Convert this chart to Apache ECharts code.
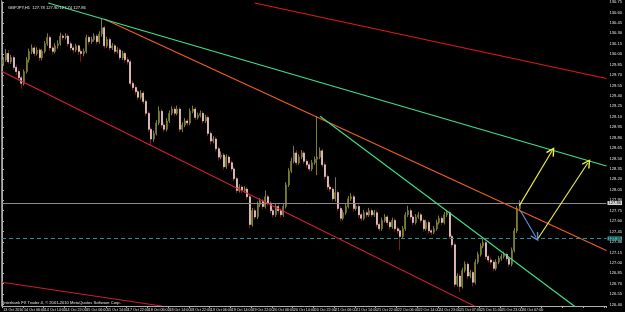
<!DOCTYPE html>
<html><head><meta charset="utf-8">
<script src="https://cdn.jsdelivr.net/npm/echarts@6/dist/echarts.min.js"></script>
<style>html,body{margin:0;padding:0;background:#000;}#c{width:625px;height:312px;}</style>
</head><body><div id="c"></div>
<script>
// ---- tick labels ----
const timeLabels = ['13 Oct 2010','14 Oct 06:00','14 Oct 14:00','14 Oct 22:00','15 Oct 06:00','15 Oct 14:00','17 Oct 22:00','18 Oct 06:00','18 Oct 14:00','18 Oct 22:00','19 Oct 06:00','19 Oct 14:00','19 Oct 22:00','20 Oct 06:00','20 Oct 14:00','20 Oct 22:00','21 Oct 06:00','21 Oct 14:00','21 Oct 22:00','22 Oct 06:00','22 Oct 14:00','24 Oct 23:00','25 Oct 07:00','25 Oct 15:00','25 Oct 23:00','26 Oct 07:00'];
const priceTicks = [126.40,126.55,126.70,126.85,127.00,127.15,127.30,127.45,127.60,127.75,127.90,128.05,128.20,128.35,128.50,128.65,128.80,128.95,129.10,129.25,129.40,129.55,129.70,129.85,130.00,130.15,130.30,130.45,130.60,130.75];
const labelEvery = 8;          // bars between time labels
const totalSlots = 233;        // bars incl. right-side shift space
const priceMin = 126.379, priceMax = 130.750;

// ---- OHLC (GBPJPY H1) ----
const opens = [129.86,129.92,130.01,129.89,129.95,129.81,129.75,129.66,129.58,129.75,
129.92,130.04,130.09,130.01,130.06,129.95,130.04,130.15,130.24,130.09,
130.04,130.12,130.15,130.26,130.24,130.26,130.15,130.09,130.06,130.12,
130.04,130.01,130.04,130.24,130.18,130.21,130.26,130.18,130.29,130.38,
130.12,130.21,130.09,130.12,130.04,130.06,129.95,130.01,129.92,129.89,
129.58,129.52,129.46,129.38,129.44,129.32,129.15,128.92,128.78,128.86,
129.01,129.18,128.98,128.92,129.04,129.15,129.21,129.15,129.21,128.92,
128.98,129.04,129.01,129.18,129.21,129.09,129.12,129.15,129.04,129.09,
128.86,128.75,128.78,128.64,128.52,128.55,128.38,128.52,128.44,128.35,
128.21,128.04,128.09,128.04,128.06,127.95,127.55,127.75,127.66,127.84,
127.89,127.81,127.95,127.86,127.75,127.69,127.81,127.75,127.69,127.81,
128.12,128.32,128.46,128.58,128.44,128.52,128.58,128.46,128.41,128.35,
128.44,128.49,128.52,128.61,128.41,128.24,128.09,128.06,127.92,128.01,
127.78,127.64,127.72,127.81,127.92,127.95,127.78,127.81,127.69,127.64,
127.72,127.69,127.75,127.69,127.72,127.55,127.49,127.61,127.66,127.58,
127.52,127.61,127.49,127.46,127.38,127.49,127.69,127.75,127.66,127.58,
127.66,127.69,127.61,127.49,127.58,127.46,127.44,127.49,127.58,127.64,
127.58,127.69,127.72,127.38,127.26,126.69,126.81,126.66,126.89,126.98,
126.81,126.86,126.72,127.01,127.12,127.24,127.29,127.09,127.04,127.01,
126.92,127.01,127.06,127.09,127.12,127.06,126.98,127.18,127.46,127.78];
const closes = [129.92,130.01,129.89,129.95,129.81,129.75,129.66,129.58,129.75,129.92,
130.04,130.09,130.01,130.06,129.95,130.04,130.15,130.24,130.09,130.04,
130.12,130.15,130.26,130.24,130.26,130.15,130.09,130.06,130.12,130.04,
130.01,130.04,130.24,130.18,130.21,130.26,130.18,130.29,130.38,130.12,
130.21,130.09,130.12,130.04,130.06,129.95,130.01,129.92,129.89,129.58,
129.52,129.46,129.38,129.44,129.32,129.15,128.92,128.78,128.86,129.01,
129.18,128.98,128.92,129.04,129.15,129.21,129.15,129.21,128.92,128.98,
129.04,129.01,129.18,129.21,129.09,129.12,129.15,129.04,129.09,128.86,
128.75,128.78,128.64,128.52,128.55,128.38,128.52,128.44,128.35,128.21,
128.04,128.09,128.04,128.06,127.95,127.55,127.75,127.66,127.84,127.89,
127.81,127.95,127.86,127.75,127.69,127.81,127.75,127.69,127.81,128.12,
128.32,128.46,128.58,128.44,128.52,128.58,128.46,128.41,128.35,128.44,
128.49,128.52,128.61,128.41,128.24,128.09,128.06,127.92,128.01,127.78,
127.64,127.72,127.81,127.92,127.95,127.78,127.81,127.69,127.64,127.72,
127.69,127.75,127.69,127.72,127.55,127.49,127.61,127.66,127.58,127.52,
127.61,127.49,127.46,127.38,127.49,127.69,127.75,127.66,127.58,127.66,
127.69,127.61,127.49,127.58,127.46,127.44,127.49,127.58,127.64,127.58,
127.69,127.72,127.38,127.26,126.69,126.81,126.66,126.89,126.98,126.81,
126.86,126.72,127.01,127.12,127.24,127.29,127.09,127.04,127.01,126.92,
127.01,127.06,127.09,127.12,127.06,126.98,127.18,127.46,127.78,127.86];
const highs = [129.96,130.07,130.06,129.99,129.98,129.85,129.78,129.69,129.78,129.96,
130.08,130.14,130.12,130.10,130.09,130.07,130.19,130.30,130.27,130.12,
130.16,130.20,130.31,130.29,130.30,130.29,130.18,130.12,130.15,130.14,
130.07,130.08,130.28,130.27,130.25,130.30,130.29,130.33,130.51,130.41,
130.25,130.24,130.16,130.15,130.10,130.09,130.05,130.04,129.96,129.92,
129.62,129.56,129.49,129.48,129.47,129.35,129.18,128.95,128.90,129.05,
129.25,129.21,129.02,129.08,129.19,129.25,129.24,129.26,129.24,129.02,
129.08,129.07,129.22,129.26,129.24,129.16,129.19,129.18,129.13,129.12,
128.89,128.82,128.81,128.67,128.60,128.58,128.56,128.55,128.47,128.38,
128.24,128.13,128.12,128.10,128.09,127.98,127.79,127.78,127.88,127.93,
127.92,128.04,127.98,127.89,127.78,127.85,127.84,127.78,127.85,128.16,
128.36,128.51,128.68,128.62,128.56,128.62,128.61,128.49,128.44,128.48,
128.53,129.11,128.66,128.64,128.44,128.27,128.13,128.09,128.23,128.04,
127.81,127.76,127.85,127.96,128.00,127.98,127.85,127.84,127.72,127.76,
127.75,127.79,127.78,127.76,127.75,127.58,127.65,127.70,127.69,127.61,
127.65,127.64,127.52,127.49,127.53,127.73,127.82,127.78,127.69,127.70,
127.73,127.72,127.64,127.62,127.61,127.49,127.53,127.62,127.68,127.67,
127.73,127.76,127.75,127.41,127.29,126.85,126.84,126.93,127.02,127.01,
126.90,126.89,127.05,127.16,127.28,127.35,127.32,127.12,127.08,127.04,
127.05,127.10,127.13,127.16,127.15,127.09,127.22,127.50,127.82,127.90];
const lows = [129.83,129.89,129.86,129.86,129.78,129.70,129.62,129.50,129.55,129.72,
129.88,130.00,129.97,129.98,129.90,129.91,130.01,130.12,130.05,130.00,
130.01,130.08,130.12,130.20,130.21,130.11,130.05,130.02,130.03,129.99,
129.89,129.97,130.01,130.14,130.15,130.18,130.14,130.15,130.25,130.08,
130.09,130.05,130.06,130.00,130.01,129.91,129.92,129.88,129.85,129.54,
129.48,129.42,129.34,129.35,129.28,129.11,128.88,128.68,128.74,128.83,
128.98,128.94,128.88,128.89,129.01,129.12,129.11,129.12,128.88,128.88,
128.95,128.97,128.98,129.15,129.05,129.06,129.09,129.00,129.01,128.82,
128.70,128.72,128.60,128.47,128.49,128.34,128.35,128.40,128.31,128.17,
128.00,128.01,128.00,128.01,127.91,127.50,127.52,127.62,127.63,127.80,
127.77,127.78,127.82,127.71,127.65,127.66,127.71,127.65,127.66,127.78,
128.09,128.29,128.43,128.40,128.41,128.49,128.42,128.37,128.31,128.32,
128.41,128.26,128.49,128.37,128.20,128.05,128.02,127.88,127.88,127.74,
127.60,127.61,127.69,127.78,127.89,127.74,127.75,127.65,127.60,127.61,
127.65,127.66,127.66,127.66,127.51,127.45,127.46,127.58,127.54,127.48,
127.49,127.45,127.42,127.18,127.35,127.46,127.66,127.62,127.54,127.55,
127.63,127.57,127.45,127.46,127.42,127.40,127.41,127.46,127.55,127.54,
127.55,127.66,127.34,127.22,126.65,126.66,126.58,126.63,126.86,126.77,
126.78,126.66,126.69,126.98,127.09,127.21,127.05,127.00,126.97,126.88,
126.89,126.98,127.03,127.06,127.02,126.94,126.95,127.15,127.43,127.74];

// ---- price levels ----
const bidPrice = 127.86;
const levelPrice = 127.35;
const headerText = 'GBPJPY,H1  127.78 127.90 127.74 127.86';
const footerText = 'Interbank FX Trader 4, \u00a9 2001-2010 MetaQuotes Software Corp.';

// ---- trendlines: [bar position, price] ----
const channelLow = [[0, 129.75], [182.6, 126.37]];
const redUpper = [[97.4, 130.736], [233, 129.65]];
const redBottom = [[0, 126.72], [61.5, 126.38]];
const orangeLine = [[39.34, 130.507], [233, 127.176]];
const greenUpper = [[17.8, 130.736], [233, 128.393]];
const greenLower = [[122.6, 129.107], [220.8, 126.372]];
const yellowArrow1 = [[199.4, 127.822], [212.0, 128.607]];
const yellowArrow2 = [[206.6, 127.35], [225.8, 128.436]];
const blueArrow = [[199.8, 127.75], [205.9, 127.365]];

// ---- build ----
const categories = Array.from({length: totalSlots}, (_, i) => 'b' + i);
const ohlc = opens.map((o, i) => [o, closes[i], lows[i], highs[i]]);
const bodies = opens.map((o, i) => [o, closes[i], Math.min(o, closes[i]), Math.max(o, closes[i])]);

const bull = '#7c7c32', bearBody = '#f4d2d2', bearWick = '#7a1a1a';
const chevron = 'path://M5,0 L10,9 L8.8,10 L5,3.2 L1.2,10 L0,9 Z';
const lbl = {fontFamily: 'Liberation Sans', fontSize: 4.1, color: '#e6e6e6'};

function lineSeries(coords, color, arrow) {
  return {
    type: 'lines', coordinateSystem: 'cartesian2d', xAxisIndex: 1, yAxisIndex: 0,
    clip: true, silent: true, z: 5,
    symbol: arrow ? ['none', chevron] : ['none', 'none'], symbolSize: 9,
    lineStyle: {color: color, width: 1.1, opacity: 1, curveness: 0},
    data: [{coords: coords}]
  };
}

const chart = echarts.init(document.getElementById('c'), null, {renderer: 'canvas'});
chart.setOption({
  backgroundColor: '#000',
  animation: false,
  grid: {left: 2, right: 13, top: 0, bottom: 6, containLabel: false},
  title: {text: headerText, left: 3, top: 1, textStyle: Object.assign({}, lbl, {fontWeight: 'normal'})},
  graphic: [
    {type: 'line', shape: {x1: 1.5, y1: 0, x2: 1.5, y2: 306}, style: {stroke: '#8a8a8a', lineWidth: 1}},
    {type: 'text', left: 3, top: 300.5, style: Object.assign({text: footerText, fill: '#e6e6e6', font: '4.1px "Liberation Sans"'})}
  ],
  xAxis: [{
    type: 'category', data: categories, boundaryGap: true,
    axisLine: {lineStyle: {color: '#b0b0b0', width: 1}},
    axisTick: {show: true, interval: labelEvery - 1, length: 2, lineStyle: {color: '#b0b0b0'}},
    axisLabel: Object.assign({}, lbl, {fontSize: 3.7, interval: labelEvery - 1, align: 'left', margin: 2,
      showMinLabel: true, hideOverlap: false,
      formatter: (v, idx) => timeLabels[idx / labelEvery] || ''}),
    splitLine: {show: false}
  }, {
    type: 'value', min: 0, max: totalSlots, show: false
  }],
  yAxis: [{
    type: 'value', position: 'right', min: priceMin, max: priceMax, scale: true,
    axisLine: {show: true, lineStyle: {color: '#b0b0b0', width: 1}},
    axisTick: {show: true, length: 2, customValues: priceTicks, lineStyle: {color: '#b0b0b0'}},
    axisLabel: Object.assign({}, lbl, {margin: 3, customValues: priceTicks, formatter: v => Number(v).toFixed(2)}),
    splitLine: {show: false}
  }],
  series: [
    {
      type: 'candlestick', name: 'wicks', data: ohlc, barWidth: 1, silent: true, z: 2,
      itemStyle: {color: bull, color0: bearWick, borderColor: bull, borderColor0: bearWick, borderWidth: 1}
    },
    {
      type: 'candlestick', name: 'bodies', data: bodies, barWidth: 1.5, silent: true, z: 3,
      itemStyle: {color: bull, color0: bearBody, borderColor: bull, borderColor0: bearBody, borderColorDoji: bull, borderWidth: 0.7},
      markLine: {
        silent: true, symbol: ['none', 'none'], animation: false,
        data: [
          {yAxis: bidPrice, lineStyle: {color: '#8c8c8c', type: 'solid', width: 1},
           label: Object.assign({}, lbl, {position: 'end', distance: 1, color: '#000', backgroundColor: '#d8d8d8', padding: [0, 1], formatter: p => p.value.toFixed(2)})},
          {yAxis: levelPrice, lineStyle: {color: '#2e8c8c', type: [4, 3], width: 1},
           label: Object.assign({}, lbl, {position: 'end', distance: 1, color: '#000', backgroundColor: '#3aa3a3', padding: [0, 1], formatter: p => p.value.toFixed(2)})}
        ]
      }
    },
    lineSeries(channelLow, '#d8203c', false),
    lineSeries(redUpper, '#e01818', false),
    lineSeries(redBottom, '#c81e30', false),
    lineSeries(orangeLine, '#f06020', false),
    lineSeries(greenUpper, '#3fe08c', false),
    lineSeries(greenLower, '#3fe08c', false),
    lineSeries(yellowArrow1, '#f2f24a', true),
    lineSeries(yellowArrow2, '#f2f24a', true),
    lineSeries(blueArrow, '#5c8fd6', true)
  ]
});
</script></body></html>
